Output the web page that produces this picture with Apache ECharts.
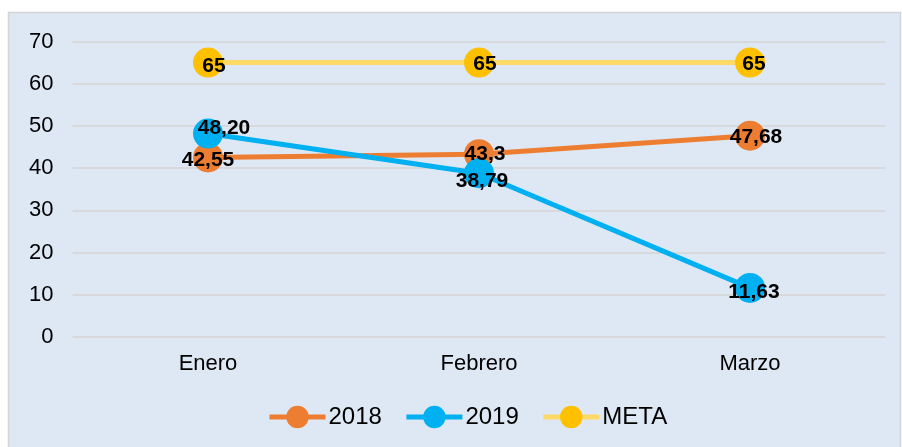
<!DOCTYPE html>
<html>
<head>
<meta charset="utf-8">
<script src="https://cdn.jsdelivr.net/npm/echarts@6/dist/echarts.min.js"></script>
<style>
  html, body { margin: 0; padding: 0; background: #fff; }
  #chart { width: 902px; height: 447px; }
</style>
</head>
<body>
<div id="chart"></div>
<script>
// months on the x axis
const months = ['Enero', 'Febrero', 'Marzo'];
const values2018 = [42.55, 43.3, 47.68];
const values2019 = [48.20, 38.79, 11.63];
const valuesMeta = [65, 65, 65];
// labels as written in the chart (comma decimals)
const labels2018 = ['42,55', '43,3', '47,68'];
const labels2019 = ['48,20', '38,79', '11,63'];
const labelsMeta = ['65', '65', '65'];

const chart = echarts.init(document.getElementById('chart'));

const FONT = 'Liberation Sans, Arial, sans-serif';

function lineSeries(name, data, labels, lineColor, markerColor, labelOffsets) {
  return {
    name: name,
    type: 'line',
    data: data.map((v, i) => ({
      value: v,
      label: { offset: labelOffsets[i] }
    })),
    symbol: 'circle',
    symbolSize: 30,
    lineStyle: { color: lineColor, width: 5 },
    itemStyle: { color: markerColor },
    label: {
      show: true,
      position: 'inside',
      fontFamily: FONT,
      fontWeight: 'bold',
      fontSize: 21,
      color: '#000',
      formatter: p => labels[p.dataIndex]
    },
    emphasis: { disabled: true }
  };
}

chart.setOption({
  animation: false,
  graphic: [{
    type: 'rect',
    z: -10,
    shape: { x: 8.5, y: 12.5, width: 892, height: 440 },
    style: { fill: '#dde8f4', stroke: '#d4d4d4', lineWidth: 1.5 }
  }],
  grid: { left: 72.5, right: 16.5, top: 41.5, bottom: 110 },
  xAxis: {
    type: 'category',
    data: months,
    axisLine: { show: false },
    axisTick: { show: false },
    axisLabel: { fontFamily: FONT, fontSize: 22, color: '#000', margin: 16 }
  },
  yAxis: {
    type: 'value',
    min: 0,
    max: 70,
    interval: 10,
    axisLine: { show: false },
    axisTick: { show: false },
    splitLine: { lineStyle: { color: '#d4d4d4', width: 1.5 } },
    axisLabel: { fontFamily: FONT, fontSize: 22, color: '#000', margin: 19 }
  },
  legend: {
    bottom: 13,
    left: 262,
    itemWidth: 56,
    itemHeight: 28,
    itemGap: 22,
    lineStyle: { width: 5 },
    textStyle: {
      fontFamily: FONT,
      fontSize: 24,
      color: '#000',
      padding: [0, 0, 0, -2]
    },
    data: ['2018', '2019', 'META']
  },
  series: [
    lineSeries('META', valuesMeta, labelsMeta, '#ffd966', '#ffc000', [[6, 4], [6, 2], [4, 2]]),
    lineSeries('2018', values2018, labels2018, '#ed7d31', '#ed7d31', [[0, 3], [6, 0], [6, 1]]),
    lineSeries('2019', values2019, labels2019, '#00b0f0', '#00b0f0', [[16, -5], [3, 8], [4, 4]])
  ]
});
</script>
</body>
</html>
